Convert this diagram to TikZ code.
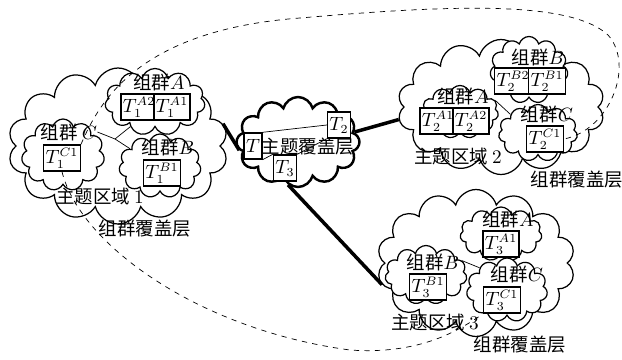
\documentclass[tikz,border=0pt]{standalone}
\usepackage{fontspec}
\newfontfamily\cjk{Noto Sans CJK SC}
\usetikzlibrary{shapes.symbols}

\tikzset{
  region/.style={cloud, draw, fill=white, cloud puffs=14, cloud ignores aspect, line width=0.7pt, inner sep=0pt},
  group/.style={cloud, draw, fill=white, cloud puffs=11, cloud ignores aspect, line width=0.7pt, inner sep=0pt},
  tbox/.style={draw, line width=0.8pt, inner sep=1.1pt, minimum height=0.52cm, fill=white, font=\fontsize{10.5}{12}\selectfont},
  lbl/.style={inner sep=0pt, font={\cjk\fontsize{10.5}{12}\selectfont}},
  link/.style={line width=2pt},
  sublink/.style={line width=0.4pt}
}

\begin{document}
\begin{tikzpicture}[x=0.02cm, y=-0.02cm]
\useasboundingbox (0,0) rectangle (622,359);

% Topic area 1
\node[region, minimum width=4.4cm, minimum height=3.12cm] (r1) at (118,146) {};
\node[group, minimum width=2.0cm, minimum height=1.34cm] (r1a) at (155,102) {};
\node[group, minimum width=1.66cm, minimum height=1.44cm] (r1c) at (63,155) {};
\node[group, minimum width=1.64cm, minimum height=1.28cm] (r1b) at (160,166) {};
\node[lbl] (la1) at (159,82) {组群$A$};
\node[tbox] (t1a2) at (139,107) {$T_1^{A2}$};
\node[tbox] (t1a1) at (172,107) {$T_1^{A1}$};
\node[lbl] (lc1) at (69,132) {组群 $C$};
\node[tbox] (t1c1) at (62,158) {$T_1^{C1}$};
\node[lbl] (lb1) at (168,147) {组群$B$};
\node[tbox] (t1b1) at (162,173) {$T_1^{B1}$};
\node[lbl] (area1) at (100,196) {主题区域 $1$};
\node[lbl] (cov1) at (145,229) {组群覆盖层};

% Topic overlay
\node[region, line width=1.4pt, cloud puffs=12, minimum width=2.46cm, minimum height=1.8cm] (topic) at (298,142) {};
\node[tbox] (tt1) at (253,146) {$T$};
\node[lbl] (ltopic) at (308,147) {主题覆盖层};
\node[tbox] (tt2) at (339,125) {$T_2$};
\node[tbox] (tt3) at (285,168) {$T_3$};

% Topic area 2
\node[region, minimum width=4.14cm, minimum height=2.7cm] (r2) at (501,107) {};
\node[group, minimum width=1.56cm, minimum height=1.34cm] (r2b) at (529,70) {};
\node[group, minimum width=1.54cm, minimum height=1.06cm] (r2a) at (460,112) {};
\node[group, minimum width=1.58cm, minimum height=1.14cm] (r2c) at (538,133) {};
\node[lbl] (lb2) at (538,57) {组群$B$};
\node[tbox] (t2b2) at (513,81) {$T_2^{B2}$};
\node[tbox] (t2b1) at (547,81) {$T_2^{B1}$};
\node[lbl] (la2) at (463,96) {组群$A$};
\node[tbox] (t2a1) at (438,121) {$T_2^{A1}$};
\node[tbox] (t2a2) at (471,121) {$T_2^{A2}$};
\node[lbl] (lc2) at (547,114) {组群$C$};
\node[tbox] (t2c1) at (545,139) {$T_2^{C1}$};
\node[lbl] (area2) at (458,156) {主题区域 $2$};
\node[lbl] (cov2) at (577,180) {组群覆盖层};

% Topic area 3
\node[region, minimum width=3.96cm, minimum height=2.94cm] (r3) at (476,263) {};
\node[group, minimum width=1.64cm, minimum height=1.08cm] (r3a) at (501,234) {};
\node[group, minimum width=1.64cm, minimum height=1.18cm] (r3b) at (426,275) {};
\node[group, minimum width=1.62cm, minimum height=1.28cm] (r3c) at (507,290) {};
\node[lbl] (la3) at (508,219) {组群$A$};
\node[tbox] (t3a1) at (501,244) {$T_3^{A1}$};
\node[lbl] (lb3) at (433,262) {组群$B$};
\node[tbox] (t3b1) at (428,287) {$T_3^{B1}$};
\node[lbl] (lc3) at (517,274) {组群$C$};
\node[tbox] (t3c1) at (502,300) {$T_3^{C1}$};
\node[lbl] (area3) at (435,322) {主题区域 $3$};
\node[lbl] (cov3) at (520,345) {组群覆盖层};

% Links between areas
\draw[link] (r1.12) -- (topic.188);
\draw[link] (topic.10) -- (r2.187);
\draw[link] (topic.257) -- (r3.193);

% Links inside
\draw[sublink] (tt1.north east) -- (tt2.west);
\draw[sublink] (tt1.south east) -- (tt3.north west);
\draw[sublink] (tt3.north east) -- (tt2.south west);
\coordinate (j1) at (115,139);
\draw[sublink] (lc1.east) -- (j1) -- (r1a.225);
\draw[sublink] (j1) -- (r1b.150);
\draw[sublink] (r2a.18) -- (r2c.146);
\draw[sublink] (r3b.22) -- (r3c.141);

% Group overlay
\draw[dashed] (t1c1.north east) .. controls (100,100) and (140,30) .. (300,18)
  .. controls (450,5) and (570,0) .. (608,35)
  .. controls (635,65) and (610,130) .. (t2c1.east);
\draw[dashed] (t1c1.south) .. controls (80,245) and (200,330) .. (350,350)
  .. controls (420,355) and (460,330) .. (t3c1.south west);
\end{tikzpicture}
\end{document}
